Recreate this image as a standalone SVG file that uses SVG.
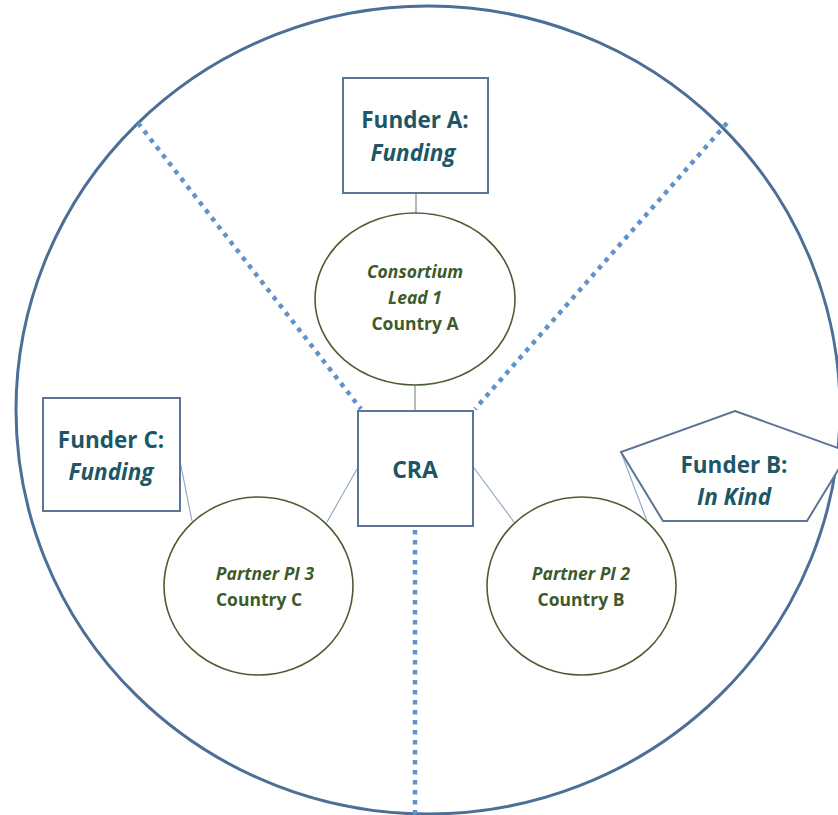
<svg xmlns="http://www.w3.org/2000/svg" width="838" height="815" viewBox="0 0 838 815">
<style>
.box{fill:#fff;stroke:#5B7594;stroke-width:2}
.ell{fill:#fff;stroke:#4A5E34;stroke-width:1.6}
.ft{font-family:"Open Sans","Noto Sans",sans-serif;font-weight:bold;fill:#1D5766;text-anchor:middle;font-size:22.5px}
.et{font-family:"Open Sans","Noto Sans",sans-serif;font-weight:bold;fill:#3E5A2A;text-anchor:middle;font-size:17.5px}
.it{font-style:italic}
.dot{stroke:#5F93CC;stroke-width:4.5;stroke-dasharray:4.5 5.5;fill:none}
.ln{stroke:#95ABC4;stroke-width:1.2;fill:none}
.lg{stroke:#7F8C99;stroke-width:1.2;fill:none}
</style>
<rect width="838" height="815" fill="#fff"/>
<ellipse id="boundary" cx="428" cy="410" rx="412" ry="404" fill="none" stroke="#4C6F98" stroke-width="3"/>
<g id="connectors">
<line class="dot" x1="138" y1="123" x2="361" y2="409"/>
<line class="dot" x1="727" y1="123" x2="475" y2="409"/>
<line class="dot" x1="415" y1="530" x2="415" y2="815"/>
<line class="lg" x1="416" y1="193" x2="416" y2="213"/>
<line class="lg" x1="415" y1="385" x2="415" y2="411"/>
<line class="ln" x1="357" y1="469" x2="327" y2="522"/>
<line class="ln" x1="474" y1="468" x2="514" y2="522"/>
<line class="ln" x1="179" y1="456" x2="192" y2="521"/>
<line class="ln" x1="621" y1="452" x2="647" y2="521"/>
</g>
<g id="funderA">
<rect class="box" x="343" y="78" width="145" height="115"/>
<text class="ft" x="415" y="128">Funder A:</text>
<text class="ft it" x="413" y="161">Funding</text>
</g>
<g id="consortium">
<ellipse class="ell" cx="415" cy="299" rx="100" ry="86"/>
<text class="et it" x="415" y="278">Consortium</text>
<text class="et it" x="415" y="304">Lead 1</text>
<text class="et" x="415" y="330">Country A</text>
</g>
<g id="cra">
<rect class="box" x="358" y="411" width="115" height="115"/>
<text class="ft" x="415" y="478" style="font-size:23px">CRA</text>
</g>
<g id="funderC">
<rect class="box" x="43" y="398" width="137" height="113"/>
<text class="ft" x="111" y="448">Funder C:</text>
<text class="ft it" x="111" y="480">Funding</text>
</g>
<g id="funderB">
<polygon class="box" points="735,411 849,452 807,521 663,521 621,452"/>
<text class="ft" x="734" y="473">Funder B:</text>
<text class="ft it" x="734" y="505">In Kind</text>
</g>
<g id="partner3">
<ellipse class="ell" cx="258.5" cy="586" rx="94.5" ry="89"/>
<text class="et it" x="265" y="580">Partner PI 3</text>
<text class="et" x="259" y="606">Country C</text>
</g>
<g id="partner2">
<ellipse class="ell" cx="581.5" cy="586" rx="94.5" ry="89"/>
<text class="et it" x="581" y="580">Partner PI 2</text>
<text class="et" x="581" y="606">Country B</text>
</g>
</svg>
